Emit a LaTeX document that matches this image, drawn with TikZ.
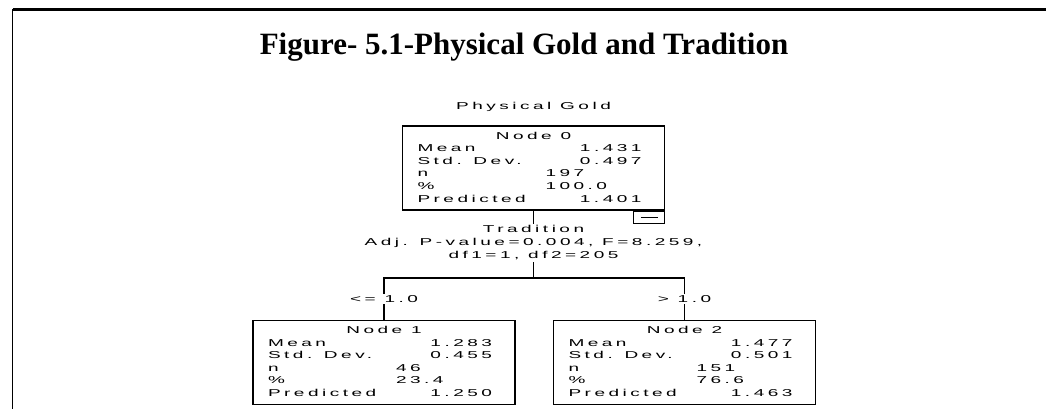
\documentclass[tikz,border=0pt]{standalone}
\usepackage{fontspec}
\setmainfont{Liberation Serif}
\newfontfamily\treefont[FakeStretch=1.9,LetterSpace=35]{Liberation Sans}

% table of statistics inside a tree node
\newcommand{\nodestats}[6]{%
  \begin{tabular}{@{}p{128pt}@{}p{96pt}@{\hspace{8pt}}}
    \multicolumn{2}{@{\hspace{4pt}}c@{\hspace{4pt}}}{#1}\\
    Mean & \hfill #2\\
    Std. Dev. & \hfill #3\\
    n & #4\\
    \% & #5\\
    Predicted & \hfill #6
  \end{tabular}}

\tikzset{
  treenode/.style={draw, line width=1.5pt, minimum width=262pt, minimum height=84pt,
    inner sep=0pt, font=\fontsize{10}{12.6}\treefont},
  treetext/.style={inner sep=2pt, align=center, font=\fontsize{10}{13}\treefont},
  condlabel/.style={fill=white, inner sep=1.5pt, font=\fontsize{10}{12}\treefont},
  branch/.style={line width=1.5pt}
}

\begin{document}
\begin{tikzpicture}[x=1pt,y=-1pt]
  \useasboundingbox (0,0) rectangle (1046,409);

  % frame
  \draw[line width=2.3pt] (12.5,9.5) -- (1046,9.5);
  \draw[line width=1.5pt] (12.5,9.5) -- (12.5,409);

  \node[anchor=base, font=\fontsize{31}{36}\selectfont\bfseries] (title) at (524,55)
    {Figure- 5.1-Physical Gold and Tradition};

  \node[treetext] (dep) at (533.5,107) {Physical Gold};

  % tree
  \node[treenode] (n0) at (533.5,168) {\nodestats{Node 0}{1.431}{0.497}{197}{100.0}{1.401}};
  \node[draw, line width=1pt, anchor=north east, minimum width=31pt, minimum height=12pt,
    inner sep=0pt] (toggle) at (n0.south east) {\rule{17pt}{1pt}};

  \node[treetext] (split) at (533.5,243) {Tradition\\Adj. P-value=0.004, F=8.259,\\df1=1, df2=205};
  \coordinate (fork) at (533.5,278);

  \node[treenode] (n1) at (384,362.5) {\nodestats{Node 1}{1.283}{0.455}{46}{23.4}{1.250}};
  \node[treenode] (n2) at (684.5,362.5) {\nodestats{Node 2}{1.477}{0.501}{151}{76.6}{1.463}};

  \draw[branch] (n0) -- (split);
  \draw[branch] (split) -- (fork);
  \draw[branch] (fork) -| node[pos=.75, condlabel] {<= 1.0} (n1.north);
  \draw[branch] (fork) -| node[pos=.75, condlabel] {> 1.0} (n2.north);

\end{tikzpicture}
\end{document}
